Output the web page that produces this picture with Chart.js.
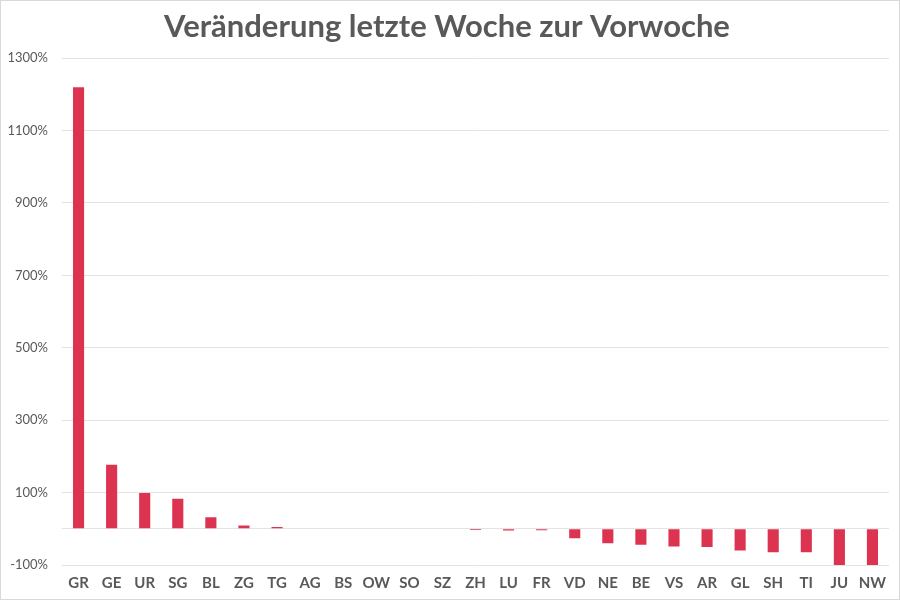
<!DOCTYPE html>
<html><head><meta charset="utf-8">
<script src="https://cdn.jsdelivr.net/npm/chart.js@4"></script>
<style>
html,body{margin:0;padding:0;background:#fff;}
#wrap{width:898px;height:598px;border:1px solid #d9d9d9;}
</style></head>
<body><div id="wrap"><canvas id="c" width="898" height="598"></canvas></div>
<script>
const categories = ["GR","GE","UR","SG","BL","ZG","TG","AG","BS","OW","SO","SZ","ZH","LU","FR","VD","NE","BE","VS","AR","GL","SH","TI","JU","NW"];
const changePct = [1220,177,99,83,32,9,5,0,0,0,0,0,-3,-5,-4,-26,-40,-44,-49,-50,-60,-65,-65,-100,-100];
const yTickValues = [-100,100,300,500,700,900,1100,1300];
const titleText = "Veränderung letzte Woche zur Vorwoche";

new Chart(document.getElementById('c'), {
  type: 'bar',
  data: {
    labels: categories,
    datasets: [{
      data: changePct,
      backgroundColor: '#DC3450',
      borderWidth: 0,
      barPercentage: 0.7,
      categoryPercentage: 0.48
    }]
  },
  options: {
    responsive: false,
    animation: false,
    layout: { padding: { left: 4, right: 10, top: 0, bottom: 0 } },
    plugins: {
      legend: { display: false },
      tooltip: { enabled: false },
      title: {
        display: true,
        text: titleText,
        color: '#595959',
        font: { family: 'Lato', size: 31, weight: 'bold' },
        padding: { top: 7, bottom: 13 }
      }
    },
    scales: {
      x: {
        grid: { display: false, drawTicks: false },
        border: { display: false },
        afterFit: (axis) => { axis.height = 34; },
        ticks: {
          color: '#595959',
          font: { family: 'Lato', size: 15, weight: 'bold' },
          maxRotation: 0, autoSkip: false, padding: 9
        }
      },
      y: {
        min: -100, max: 1300,
        afterFit: (axis) => { axis.width = 57; },
        afterBuildTicks: (axis) => {
          axis.ticks = yTickValues.concat([0]).map(v => ({ value: v }));
        },
        grid: { color: '#e3e3e3', drawTicks: false, lineWidth: 1 },
        border: { display: false },
        ticks: {
          color: '#595959',
          font: { family: 'Lato', size: 13 },
          padding: 14,
          callback: (v) => v === 0 ? '' : v + '%'
        }
      }
    }
  }
});
</script></body></html>
